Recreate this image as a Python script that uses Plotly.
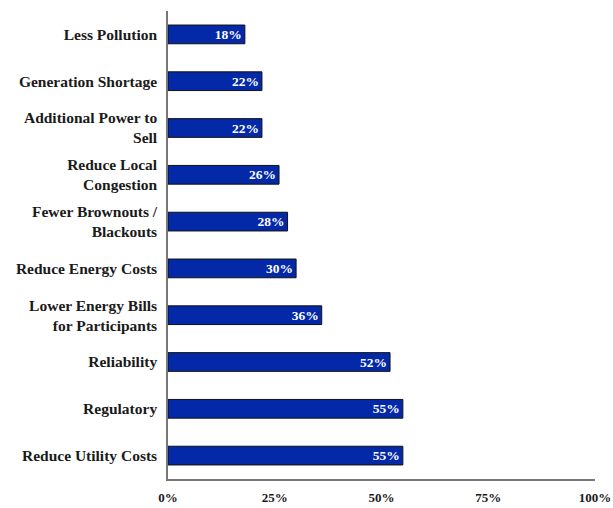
import plotly.graph_objects as go

# Reasons cited, top to bottom, and share of respondents
categories = [
    "Less Pollution",
    "Generation Shortage",
    "Additional Power to<br>Sell",
    "Reduce Local<br>Congestion",
    "Fewer Brownouts /<br>Blackouts",
    "Reduce Energy Costs",
    "Lower Energy Bills<br>for Participants",
    "Reliability",
    "Regulatory",
    "Reduce Utility Costs",
]
values = [18, 22, 22, 26, 28, 30, 36, 52, 55, 55]
x_ticks = [0, 25, 50, 75, 100]
x_tick_labels = ["0%", "25%", "50%", "75%", "100%"]

FONT = "Liberation Serif"

fig = go.Figure(
    go.Bar(
        x=values,
        y=categories,
        orientation="h",
        marker=dict(color="#0429A8", line=dict(color="#111111", width=1)),
        text=[f"<b>{v}%</b>" for v in values],
        textposition="inside",
        insidetextanchor="end",
        textfont=dict(family=FONT, size=13.5, color="white"),
        cliponaxis=False,
    )
)

fig.update_layout(
    width=613,
    height=508,
    margin=dict(l=168, r=18, t=11, b=29, autoexpand=False),
    paper_bgcolor="white",
    plot_bgcolor="white",
    bargap=0.6,
    showlegend=False,
    font=dict(family=FONT, size=15.5, color="#1a1a1a"),
    uniformtext=dict(mode="show", minsize=13),
)

fig.update_xaxes(
    range=[0, 100],
    tickvals=x_ticks,
    ticktext=[f"<b>{t}</b>" for t in x_tick_labels],
    showgrid=False,
    zeroline=False,
    showline=True,
    linecolor="#777777",
    linewidth=1.5,
    ticks="",
    automargin=False,
    ticklabelstandoff=6,
    tickfont=dict(family=FONT, size=13, color="#1a1a1a"),
)

fig.update_yaxes(
    autorange="reversed",
    tickvals=categories,
    ticktext=[f"<b>{c}</b>" for c in categories],
    showgrid=False,
    zeroline=False,
    showline=True,
    linecolor="#777777",
    linewidth=1.5,
    ticks="",
    automargin=False,
    ticklabelstandoff=6,
    tickfont=dict(family=FONT, size=15.5, color="#1a1a1a"),
)

fig.write_html("out.html")
